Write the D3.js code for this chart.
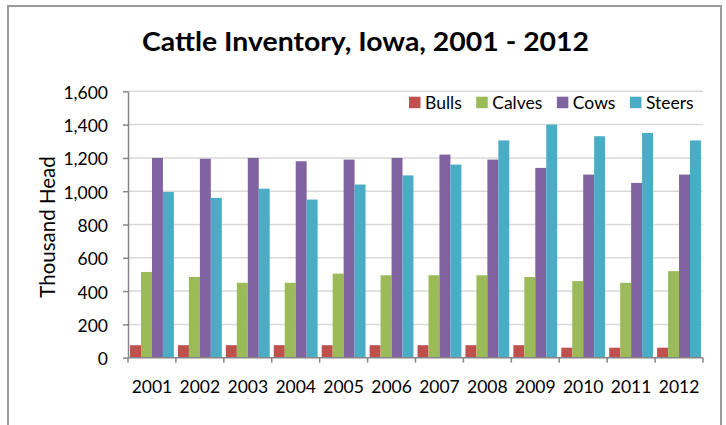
<!DOCTYPE html>
<html>
<head>
<meta charset="utf-8">
<script src="https://cdn.jsdelivr.net/npm/d3@7"></script>
<style>
  html, body { margin: 0; padding: 0; background: #fff; }
  svg { display: block; }
  text { font-family: Lato, "Open Sans", sans-serif; fill: #000; }
</style>
</head>
<body>
<svg id="chart" width="726" height="425"></svg>
<script>
const years = ["2001","2002","2003","2004","2005","2006","2007","2008","2009","2010","2011","2012"];
const seriesNames = ["Bulls","Calves","Cows","Steers"];
const bulls  = [75, 75, 75, 75, 75, 75, 75, 75, 75, 60, 60, 60];
const calves = [515, 485, 450, 450, 505, 495, 495, 495, 485, 460, 450, 520];
const cows   = [1200, 1195, 1200, 1180, 1190, 1200, 1220, 1190, 1140, 1100, 1050, 1100];
const steers = [995, 960, 1015, 950, 1040, 1095, 1160, 1305, 1400, 1330, 1350, 1305];
const colors = ["#C0504D", "#9BBB59", "#8064A2", "#4BACC6"];
const yTicks = [0, 200, 400, 600, 800, 1000, 1200, 1400, 1600];
const chartTitle = "Cattle Inventory, Iowa, 2001 - 2012";
const yTitle = "Thousand Head";

(function () {
const seriesValues = [bulls, calves, cows, steers];
const svg = d3.select("#chart");

// frame
svg.append("path")
  .attr("d", "M8,425 V6 H721 V425")
  .attr("fill", "none").attr("stroke", "#9a9a9a").attr("stroke-width", 2);

const pl = 128, pr = 703, pt = 91.33, pb = 357.67;
const x0 = d3.scaleBand().domain(years).range([pl, pr]).paddingInner(0.085).paddingOuter(0.0425);
const x1 = d3.scaleBand().domain(seriesNames).range([0, x0.bandwidth()]).padding(0);
const y = d3.scaleLinear().domain([0, 1600]).range([pb, pt]);

// gridlines
svg.append("g").selectAll("line").data(yTicks.filter(d => d > 0)).join("line")
  .attr("x1", pl).attr("x2", pr)
  .attr("y1", d => y(d)).attr("y2", d => y(d))
  .attr("stroke", "#d9d9d9").attr("stroke-width", 1.5);

// bars
const groups = svg.append("g").selectAll("g").data(years).join("g")
  .attr("transform", d => `translate(${x0(d)},0)`);
groups.selectAll("rect")
  .data((yr, i) => seriesNames.map((s, j) => ({ s, v: seriesValues[j][i], c: colors[j] })))
  .join("rect")
  .attr("x", d => x1(d.s))
  .attr("width", x1.bandwidth())
  .attr("y", d => y(d.v))
  .attr("height", d => y(0) - y(d.v))
  .attr("fill", d => d.c);

// y axis
const yAxis = svg.append("g").attr("transform", `translate(${pl},0)`)
  .call(d3.axisLeft(y).tickValues(yTicks).tickFormat(d3.format(",")).tickSize(5).tickSizeOuter(0).tickPadding(15));
yAxis.select(".domain").attr("stroke", "#868686").attr("stroke-width", 1.5);
yAxis.selectAll(".tick line").attr("stroke", "#868686").attr("stroke-width", 1.5);
yAxis.selectAll(".tick text").attr("dy", 7).attr("font-size", 17.5).attr("font-family", "Lato").attr("fill", "#000");

// x axis
const xAxisG = svg.append("g").attr("transform", `translate(0,${pb})`);
xAxisG.append("line").attr("x1", pl).attr("x2", pr).attr("y1", 0).attr("y2", 0)
  .attr("stroke", "#868686").attr("stroke-width", 1.5);
const boundaries = d3.range(years.length + 1).map(i => pl + i * (pr - pl) / years.length);
xAxisG.selectAll("line.tk").data(boundaries).join("line").attr("class", "tk")
  .attr("x1", d => d).attr("x2", d => d).attr("y1", 0).attr("y2", 5)
  .attr("stroke", "#868686").attr("stroke-width", 1.5);
xAxisG.selectAll("text").data(years).join("text")
  .attr("x", d => x0(d) + x0.bandwidth() / 2)
  .attr("y", 35)
  .attr("text-anchor", "middle")
  .attr("font-size", 17.5)
  .text(d => d);

// y title
svg.append("text")
  .attr("transform", "translate(55,227) rotate(-90)")
  .attr("text-anchor", "middle")
  .attr("font-size", 20.5)
  .text(yTitle);

// title
svg.append("text")
  .attr("x", 365.5).attr("y", 50.5)
  .attr("text-anchor", "middle")
  .attr("font-size", 27.5).attr("font-weight", "bold")
  .attr("textLength", 447).attr("lengthAdjust", "spacingAndGlyphs")
  .text(chartTitle);

// legend
const legend = svg.append("g");
let lx = 409;
seriesNames.forEach((s, j) => {
  legend.append("rect").attr("x", lx).attr("y", 96.7).attr("width", 11.5).attr("height", 11.5).attr("fill", colors[j]);
  const t = legend.append("text").attr("x", lx + 16).attr("y", 109).attr("font-size", 17.5).text(s);
  lx += 16 + t.node().getComputedTextLength() + 14.5;
});
})();
</script>
</body>
</html>
